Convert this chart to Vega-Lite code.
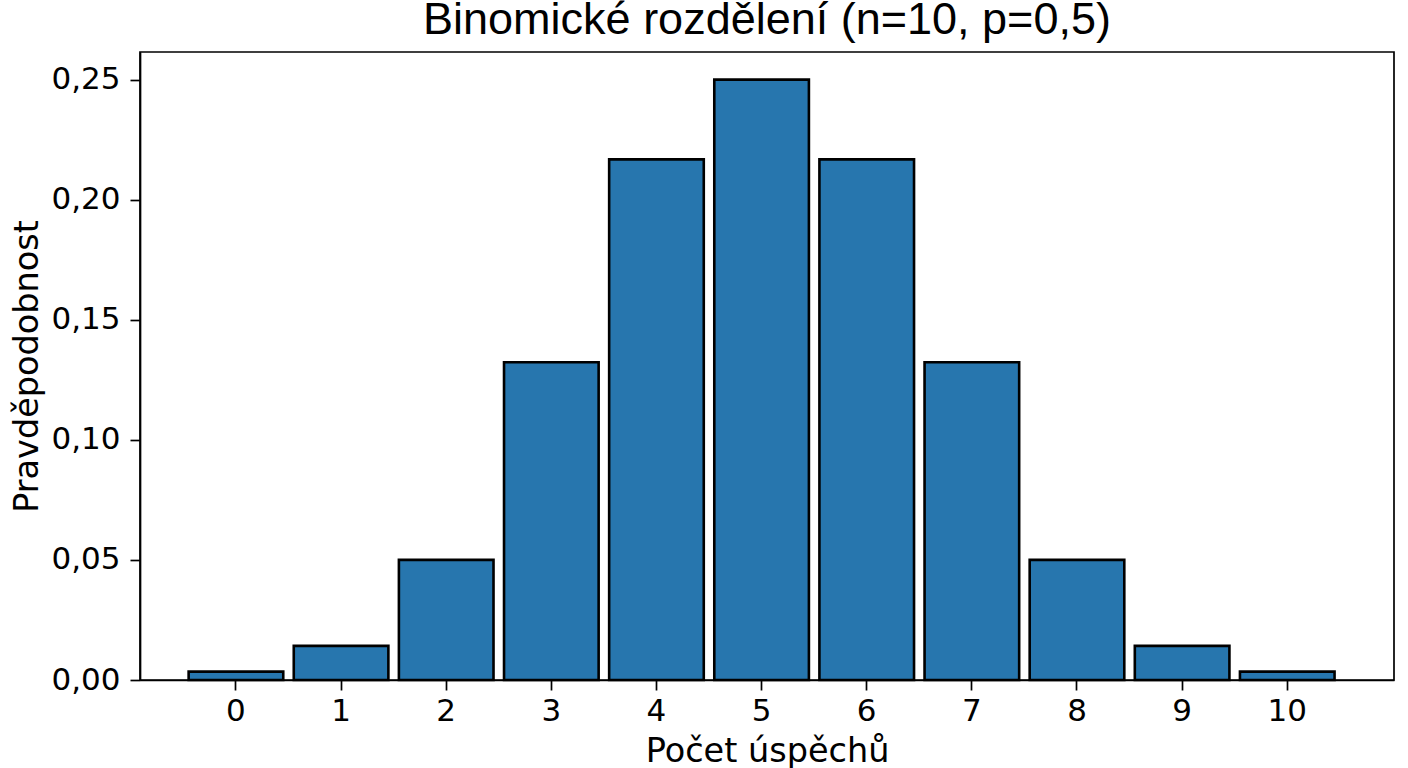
{
  "$schema": "https://vega.github.io/schema/vega-lite/v6.json",
  "width": 1254,
  "height": 628,
  "autosize": "none",
  "padding": {"left": 140, "top": 52, "right": 14, "bottom": 88},
  "background": "white",
  "title": {
    "text": "Binomické rozdělení (n=10, p=0,5)",
    "font": "Liberation Sans",
    "fontSize": 45,
    "fontWeight": "normal",
    "color": "black",
    "anchor": "middle",
    "baseline": "bottom",
    "offset": 16,
    "dy": 52
  },
  "data": {
    "values": [
      {"k": 0, "p": 0.0035},
      {"k": 1, "p": 0.0142},
      {"k": 2, "p": 0.05},
      {"k": 3, "p": 0.1323},
      {"k": 4, "p": 0.2168},
      {"k": 5, "p": 0.25},
      {"k": 6, "p": 0.2168},
      {"k": 7, "p": 0.1323},
      {"k": 8, "p": 0.05},
      {"k": 9, "p": 0.0142},
      {"k": 10, "p": 0.0035}
    ]
  },
  "mark": {"type": "bar", "color": "#2776ae", "stroke": "black", "strokeWidth": 2.6},
  "encoding": {
    "x": {
      "field": "k",
      "type": "ordinal",
      "scale": {"paddingInner": 0.1, "paddingOuter": 0.514, "align": 0.45},
      "axis": {
        "title": "Počet úspěchů",
        "labelAngle": 0,
        "labelPadding": 6,
        "titleY": 81,
        "titleBaseline": "alphabetic"
      }
    },
    "y": {
      "field": "p",
      "type": "quantitative",
      "scale": {"domain": [0, 0.2615], "nice": false, "zero": true},
      "axis": {
        "title": "Pravděpodobnost",
        "values": [0, 0.05, 0.1, 0.15, 0.2, 0.25],
        "labelExpr": "replace(format(datum.value, '.2f'), '.', ',')",
        "labelPadding": 10,
        "titleX": -103,
        "titleBaseline": "alphabetic"
      }
    }
  },
  "config": {
    "view": {"stroke": "black", "strokeWidth": 1.7},
    "axis": {
      "grid": false,
      "domainColor": "black",
      "domainWidth": 1.7,
      "tickColor": "black",
      "tickWidth": 1.7,
      "tickSize": 10,
      "labelFont": "DejaVu Sans",
      "labelFontSize": 31,
      "labelColor": "black",
      "titleFont": "DejaVu Sans",
      "titleFontSize": 33.5,
      "titleFontWeight": "normal",
      "titleColor": "black"
    }
  }
}
